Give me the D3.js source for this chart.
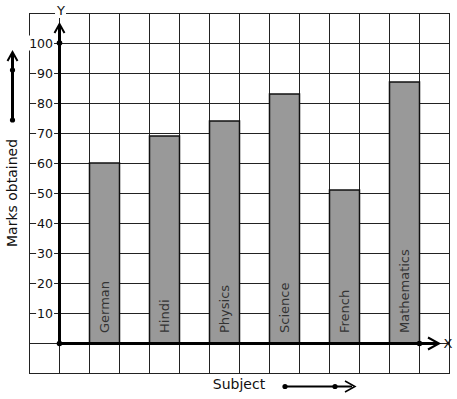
<!DOCTYPE html>
<html><head><meta charset="utf-8">
<script src="https://cdn.jsdelivr.net/npm/d3@7"></script>
<style>body{margin:0;background:#fff}svg{display:block}text{font-family:"DejaVu Sans",sans-serif}</style>
</head><body>
<svg id="c" width="457" height="399"></svg>
<script>
const subjects = ["German","Hindi","Physics","Science","French","Mathematics"];
const marks = [60, 69, 74, 83, 51, 87];
const yTicks = [10,20,30,40,50,60,70,80,90,100];
const xTitle = "Subject";
const yTitle = "Marks obtained";

const svg = d3.select("#c");
const x = d3.scaleBand().domain(subjects).range([59, 449]).paddingInner(0.5).paddingOuter(0.5);
const y = d3.scaleLinear().domain([0, 100]).range([343, 43]);
const cell = x.step() / 2;
const gridLeft = 29, gridRight = 449;
const gridTop = y(110), gridBottom = y(-10);

// grid
const g = svg.append("g").attr("stroke", "#222").attr("stroke-width", 1).attr("shape-rendering","crispEdges");
d3.range(-10, 111, 10).forEach(v => {
  g.append("line").attr("x1", gridLeft).attr("x2", gridRight).attr("y1", Math.round(y(v))+0.5).attr("y2", Math.round(y(v))+0.5);
});
d3.range(0, 15).forEach(k => {
  const xx = gridLeft + k * cell;
  g.append("line").attr("x1", xx+0.5).attr("x2", xx+0.5).attr("y1", gridTop).attr("y2", gridBottom+1);
});

// bars
svg.append("g").selectAll("rect").data(subjects).join("rect")
  .attr("x", d => x(d)+0.5).attr("width", x.bandwidth())
  .attr("y", (d,i) => y(marks[i])).attr("height", (d,i) => y(0) - y(marks[i]))
  .attr("fill", "#999").attr("stroke", "#111").attr("stroke-width", 1.5);

// bar labels
svg.append("g").selectAll("text").data(subjects).join("text")
  .attr("transform", d => `translate(${x(d) + x.bandwidth()/2 + 5},${y(0) - 10}) rotate(-90)`)
  .attr("font-size", 13).attr("fill", "#333").text(d => d);

// text with white background
function bgText(sel) {
  sel.each(function() {
    const b = this.getBBox();
    d3.select(this.parentNode).insert("rect", () => this)
      .attr("x", b.x - 1).attr("y", b.y).attr("width", b.width + 2).attr("height", b.height).attr("fill", "#fff");
  });
}

// y tick labels
const tl = svg.append("g");
yTicks.forEach(v => {
  const gg = tl.append("g");
  gg.append("text").attr("x", 53).attr("y", y(v) + 4.5).attr("text-anchor", "end")
    .attr("font-size", 12.5).attr("fill", "#111").text(v).call(bgText);
});

// axes
const ax = svg.append("g").attr("stroke", "#000").attr("stroke-width", 3).attr("fill", "none");
ax.append("line").attr("x1", 59.5).attr("x2", 59.5).attr("y1", y(0)+1).attr("y2", 26);
ax.append("line").attr("x1", 58).attr("x2", 437).attr("y1", y(0)+0.5).attr("y2", y(0)+0.5);
ax.append("path").attr("stroke-width", 2).attr("d", `M54.5,33 L59.5,24 L64.5,33`);
ax.append("path").attr("stroke-width", 2).attr("d", `M428,337.5 L439,343.5 L428,349.5`);

// dots
const dots = [[59.5, y(100)], [59.5, y(0)+0.5], [x("Mathematics") + x.bandwidth() + 0.5, y(0)+0.5]];
svg.append("g").selectAll("circle").data(dots).join("circle")
  .attr("cx", d => d[0]).attr("cy", d => d[1]).attr("r", 2.8).attr("fill", "#000");

// axis letters
const yl = svg.append("g");
yl.append("text").attr("x", 61).attr("y", 15).attr("text-anchor", "middle").attr("font-size", 13).attr("fill", "#111").text("Y").call(bgText);
svg.append("text").attr("x", 448).attr("y", 348).attr("text-anchor", "middle").attr("font-size", 13).attr("fill", "#111").text("X");

// titles
svg.append("text").attr("transform", "translate(17,193) rotate(-90)").attr("text-anchor", "middle")
  .attr("font-size", 14).attr("fill", "#111").text(yTitle);
svg.append("text").attr("x", 239).attr("y", 389).attr("text-anchor", "middle")
  .attr("font-size", 14).attr("fill", "#111").text(xTitle);

// side arrows
const sa = svg.append("g").attr("stroke", "#000").attr("fill", "none");
sa.append("line").attr("x1", 12.5).attr("x2", 12.5).attr("y1", 120).attr("y2", 53).attr("stroke-width", 3);
sa.append("path").attr("stroke-width", 2).attr("d", "M7.5,61 L12.5,52 L17.5,61");
sa.append("line").attr("x1", 285).attr("x2", 352).attr("y1", 386.5).attr("y2", 386.5).attr("stroke-width", 2);
sa.append("path").attr("stroke-width", 1.5).attr("d", "M345,381 L355,386.5 L345,392");
svg.append("g").selectAll("circle").data([[12.5,70],[12.5,120],[285,386.5],[335,386.5]]).join("circle")
  .attr("cx", d => d[0]).attr("cy", d => d[1]).attr("r", 2.6).attr("fill", "#000");
</script>
</body></html>
